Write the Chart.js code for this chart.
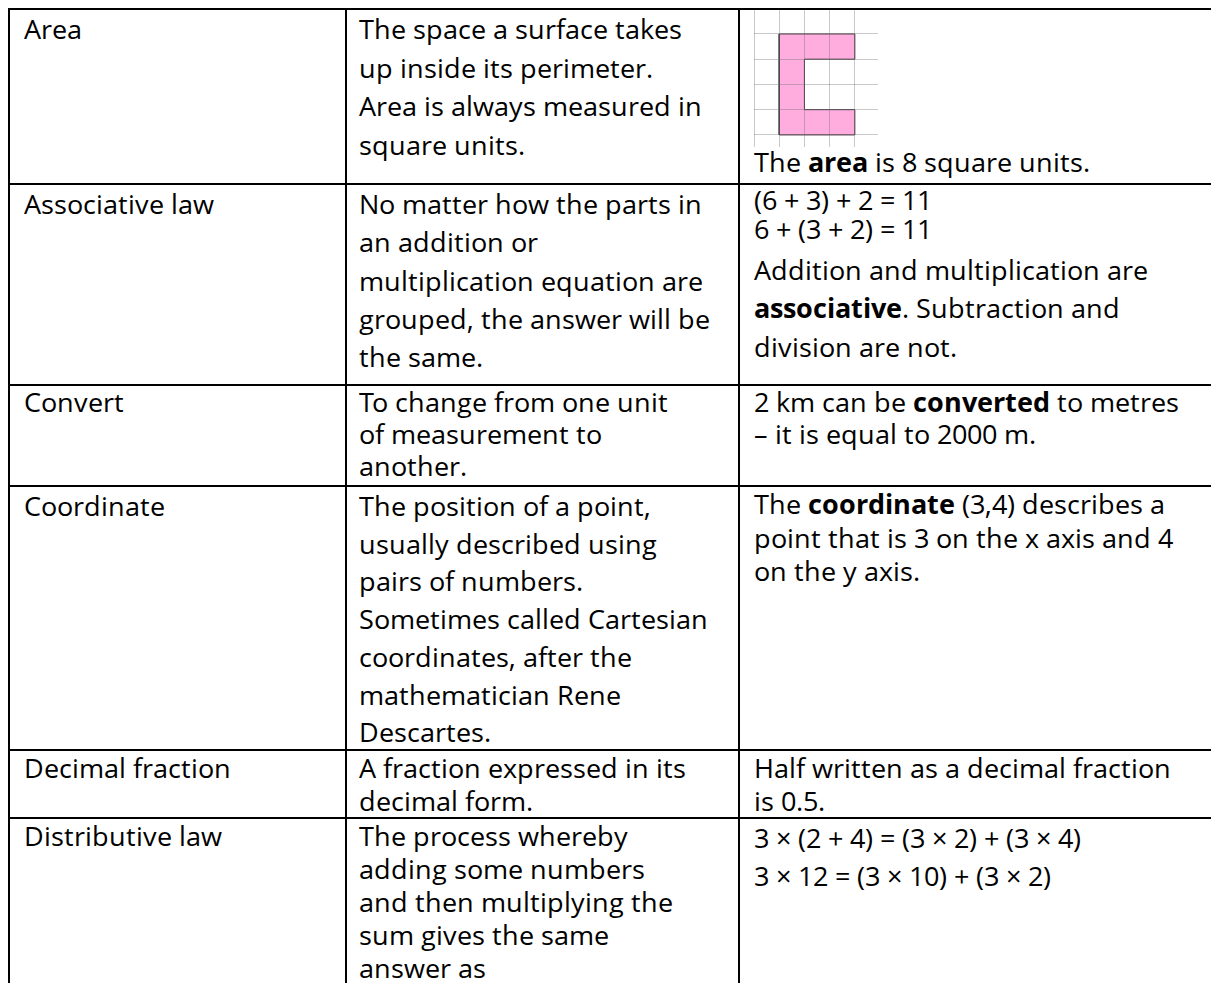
<!DOCTYPE html>
<html>
<head>
<meta charset="utf-8">
<title>Glossary</title>
<script src="https://cdn.jsdelivr.net/npm/chart.js@4.4.0/dist/chart.umd.min.js"></script>
<style>
/* Open Sans with a tighter ascent/descent so the close line spacing of the
   original document does not make the line boxes run into each other */
@font-face {
    font-family: 'Gloss Sans';
    src: local('Open Sans'), local('Open Sans Regular'), local('OpenSans-Regular');
    font-weight: 400;
    ascent-override: 91%; descent-override: 14%; line-gap-override: 0%;
}
@font-face {
    font-family: 'Gloss Sans';
    src: local('Open Sans Bold'), local('OpenSans-Bold');
    font-weight: 700;
    ascent-override: 91%; descent-override: 14%; line-gap-override: 0%;
}
html, body { margin: 0; padding: 0; background: #fff; }
body {
    width: 1211px; height: 983px; overflow: hidden; position: relative;
    font-family: 'Gloss Sans', 'Open Sans', sans-serif; font-size: 27.2px; color: #000;
}
#glossary {
    position: absolute; left: 8px; top: 8px;
    display: grid;
    grid-template-columns: 337px 393px 540px;
    grid-template-rows: 175px 201px 101px 264px 68px 260px;
    border-left: 2px solid #000; border-top: 2px solid #000;
}
.cell {
    box-sizing: border-box;
    border-right: 2px solid #000; border-bottom: 2px solid #000;
    padding-left: 14px;
}
.col2 { padding-left: 12px; }
.cell div { white-space: nowrap; }
b { font-weight: 700; }

/* line spacing differs a bit from row to row in the original document */
.row1 { line-height: 38.5px; }
.row2 { line-height: 38.3px; }
.row2.col3 div:nth-child(-n+2) { line-height: 29px; }
.row2.col3 div:nth-child(3) { margin-top: 8px; }
.row3 { line-height: 32px; }
.row4 { line-height: 37.7px; }
.row4.col3 { line-height: 33.5px; }
.row5 { line-height: 33.3px; }
.row6 { line-height: 33px; }
.row6.col3 { line-height: 38.3px; }
.row1.col3 .caption { line-height: 30px; }
#areaGrid { display: block; }
</style>
</head>
<body>
<div id="glossary"></div>

<script>
// ---- glossary text ----
const terms = ['Area', 'Associative law', 'Convert', 'Coordinate', 'Decimal fraction', 'Distributive law'];

const meanings = [
    ['The space a surface takes', 'up inside its perimeter.', 'Area is always measured in', 'square units.'],
    ['No matter how the parts in', 'an addition or', 'multiplication equation are', 'grouped, the answer will be', 'the same.'],
    ['To change from one unit', 'of measurement to', 'another.'],
    ['The position of a point,', 'usually described using', 'pairs of numbers.', 'Sometimes called Cartesian',
     'coordinates, after the', 'mathematician Rene', 'Descartes.'],
    ['A fraction expressed in its', 'decimal form.'],
    ['The process whereby', 'adding some numbers', 'and then multiplying the', 'sum gives the same', 'answer as']
];

const examples = [
    ['The **area** is 8 square units.'],
    ['(6 + 3) + 2 = 11', '6 + (3 + 2) = 11', 'Addition and multiplication are', '**associative**. Subtraction and', 'division are not.'],
    ['2 km can be **converted** to metres', '\u2013 it is equal to 2000 m.'],
    ['The **coordinate** (3,4) describes a', 'point that is 3 on the x axis and 4', 'on the y axis.'],
    ['Half written as a decimal fraction', 'is 0.5.'],
    ['3 \u00d7 (2 + 4) = (3 \u00d7 2) + (3 \u00d7 4)', '3 \u00d7 12 = (3 \u00d7 10) + (3 \u00d7 2)']
];

// ---- the little squared-paper picture (grid units) ----
const gridX = [0, 1, 2, 3, 4];
const gridY = [0, 1, 2, 3, 4];
const viewX = [0, 4.92];
const viewY = [-0.48, 4.95];
// shaded cells, one floating bar per row of squares
const rowCentres = [0.5, 1.5, 2.5, 3.5];
const rowStarts = [1, 1, 1, 1];
const rowEnds = [4, 2, 2, 4];
// outline of the shaded shape
const outlineX = [1, 4, 4, 2, 2, 4, 4, 1, 1];
const outlineY = [0, 0, 1, 1, 3, 3, 4, 4, 0];

function fmt(s) {
    return s.replace(/\*\*(.+?)\*\*/g, '<b>$1</b>');
}

function makeCell(row, col, lines) {
    const cell = document.createElement('div');
    cell.className = 'cell row' + (row + 1) + ' col' + col;
    lines.forEach(function (line) {
        const d = document.createElement('div');
        d.innerHTML = fmt(line);
        cell.appendChild(d);
    });
    return cell;
}

const table = document.getElementById('glossary');
terms.forEach(function (term, i) {
    table.appendChild(makeCell(i, 1, [term]));
    table.appendChild(makeCell(i, 2, meanings[i]));
    const ex = makeCell(i, 3, examples[i]);
    if (i === 0) {
        ex.firstChild.className = 'caption';
        const canvas = document.createElement('canvas');
        canvas.id = 'areaGrid';
        canvas.width = 124;
        canvas.height = 137;
        ex.insertBefore(canvas, ex.firstChild);
    }
    table.appendChild(ex);
});

function fixedTicks(values) {
    return function (axis) {
        axis.ticks = values.map(function (v) { return { value: v }; });
    };
}

function gridStyle() {
    return { color: 'rgba(100,100,100,0.35)', lineWidth: 1, drawTicks: false, offset: false, z: 1 };
}

new Chart(document.getElementById('areaGrid'), {
    type: 'bar',
    data: {
        datasets: [
            {
                type: 'scatter',
                indexAxis: 'x',
                data: outlineX.map(function (x, i) { return { x: x, y: outlineY[i] }; }),
                showLine: true,
                borderColor: '#3c3c3c',
                borderWidth: 1,
                pointRadius: 0,
                fill: false,
                order: 0
            },
            {
                type: 'bar',
                indexAxis: 'y',
                data: rowCentres.map(function (y, i) { return { y: y, x: [rowStarts[i], rowEnds[i]] }; }),
                backgroundColor: '#ffaddf',
                borderWidth: 0,
                barPercentage: 1,
                categoryPercentage: 1,
                order: 1
            }
        ]
    },
    options: {
        responsive: false,
        animation: false,
        layout: { padding: 0, autoPadding: false },
        plugins: { legend: { display: false }, tooltip: { enabled: false } },
        scales: {
            // bar charts turn on offset for the index axis; the paper grid must run edge to edge
            x: {
                type: 'linear', min: viewX[0], max: viewX[1], offset: false, beginAtZero: false,
                afterBuildTicks: fixedTicks(gridX),
                ticks: { display: false },
                grid: gridStyle(),
                border: { display: false }
            },
            y: {
                type: 'linear', min: viewY[0], max: viewY[1], offset: false, beginAtZero: false,
                afterBuildTicks: fixedTicks(gridY),
                ticks: { display: false },
                grid: gridStyle(),
                border: { display: false }
            }
        }
    }
});
</script>
</body>
</html>
